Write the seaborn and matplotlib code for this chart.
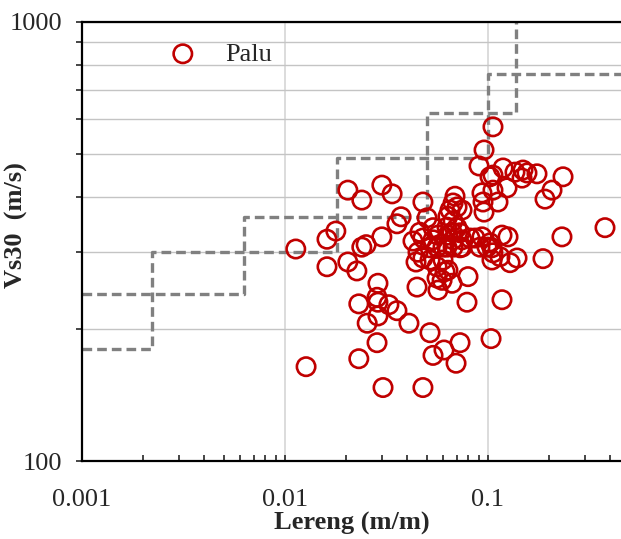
import numpy as np
import pandas as pd
import matplotlib
matplotlib.use("Agg")
import matplotlib.pyplot as plt
import matplotlib.ticker as mticker
import seaborn as sns

# slope (m/m) and Vs30 (m/s)
slope = [0.0113, 0.0127, 0.0161, 0.0161, 0.0178, 0.0204, 0.0239, 0.0300, 0.0337, 0.0204,
         0.0226, 0.0239, 0.0251, 0.0300, 0.0356, 0.0373, 0.0287, 0.0284, 0.0231, 0.0287,
         0.0325, 0.0356, 0.0287, 0.0254, 0.0408, 0.0284, 0.0231, 0.0304, 0.0478, 0.0518,
         0.0536, 0.0607, 0.0728, 0.0696, 0.1035,
         0.0478, 0.0501, 0.0427, 0.0452, 0.0478, 0.0518, 0.0447, 0.0442, 0.0518, 0.0478,
         0.0536, 0.0567, 0.0536, 0.0635, 0.0462, 0.0688, 0.0673, 0.0704, 0.0745, 0.0650,
         0.0635, 0.0673, 0.0628, 0.0665, 0.0704, 0.0728, 0.0673, 0.0745, 0.0628, 0.0745,
         0.0673, 0.0600, 0.0561, 0.0561, 0.0600, 0.0635, 0.0594, 0.0665, 0.0614, 0.0561,
         0.0567, 0.0797, 0.0788, 0.0815, 0.0728,
         0.0863, 0.0913, 0.0934, 0.0989, 0.1023, 0.1046, 0.1058, 0.1046, 0.1146, 0.1255,
         0.1284, 0.1390, 0.1172, 0.1058, 0.0956, 0.0903, 0.1058, 0.1186, 0.1358, 0.1487,
         0.1556, 0.1471, 0.1743, 0.2342, 0.0934, 0.1058, 0.1241, 0.0945, 0.1120, 0.0956,
         0.2067, 0.1909, 0.2314, 0.1866, 0.377, 0.1023, 0.1172]
vs30 = [304, 164, 277, 320, 334, 414, 393, 425, 406, 284,
        271, 307, 311, 324, 347, 360, 254, 236, 228, 230,
        227, 220, 214, 206, 206, 186, 171, 147, 147, 196,
        174, 179, 186, 167, 190,
        389, 358, 317, 299, 290, 306, 249, 284, 287, 322,
        340, 327, 319, 327, 332, 401, 387, 379, 373, 373,
        361, 352, 341, 332, 340, 331, 319, 319, 307, 307,
        307, 307, 307, 277, 287, 272, 258, 254, 270, 261,
        245, 263, 230, 322, 306,
        322, 307, 324, 307, 314, 306, 298, 287, 292, 324,
        283, 290, 233, 577, 511, 470, 448, 465, 455, 460,
        453, 441, 451, 444, 408, 414, 419, 389, 389, 369,
        414, 395, 324, 289, 340, 444, 327]

# site class slope boundaries (step lines)
lo_slope = [0.001, 0.0022, 0.018, 0.1, 1.0]
lo_vs = [180, 300, 490, 760, 760]
hi_slope = [0.001, 0.0063, 0.05, 0.138]
hi_vs = [240, 360, 620, 2000]

df = pd.DataFrame({"slope": slope, "vs30": vs30})

sns.set_style("white")
plt.rcParams["font.family"] = ["Liberation Serif", "DejaVu Serif"]

fig = plt.figure(figsize=(6.21, 5.39), dpi=100)
ax = fig.add_axes([82 / 621, 78 / 539, 539 / 621, 439 / 539])
ax.set_xscale("log")
ax.set_yscale("log")

ax.plot(lo_slope, lo_vs, drawstyle="steps-post", color="#808080", lw=2.4,
        dashes=(2.9, 1.5), zorder=2)
ax.plot(hi_slope, hi_vs, drawstyle="steps-post", color="#808080", lw=2.4,
        dashes=(2.9, 1.5), zorder=2)

sns.scatterplot(data=df, x="slope", y="vs30", ax=ax, marker="o", s=175,
                facecolor="none", edgecolor="#C00000", linewidth=1.9,
                label="Palu", zorder=3)

ax.set_xlim(0.001, 10 ** (-3 + 539 / 203))
ax.set_ylim(100, 1000)

ax.xaxis.set_major_formatter(mticker.FuncFormatter(lambda v, p: "%g" % v))
ax.xaxis.set_minor_formatter(mticker.NullFormatter())
ax.yaxis.set_major_formatter(mticker.FuncFormatter(lambda v, p: "%g" % v))
ax.yaxis.set_minor_formatter(mticker.NullFormatter())

ax.grid(True, axis="y", which="both", color="#c4c4c4", lw=1.0, zorder=0)
ax.grid(True, axis="x", which="major", color="#d9d9d9", lw=1.3, zorder=0)
ax.set_axisbelow(True)

ax.tick_params(axis="y", which="both", direction="out", length=4, width=1.2,
               left=True, labelsize=19, pad=10)
ax.tick_params(axis="x", which="both", direction="in", length=4, width=1.2,
               bottom=True, labelsize=19, pad=20)

for side in ["left", "bottom", "top"]:
    ax.spines[side].set_color("black")
    ax.spines[side].set_linewidth(1.6)
ax.spines["right"].set_visible(False)

ax.set_xlabel("Lereng (m/m)", fontsize=19, fontweight="bold", labelpad=0.5)
ax.set_ylabel("Vs30  (m/s)", fontsize=19, fontweight="bold")
ax.yaxis.set_label_coords(-0.100, 0.538)

ax.legend(loc="upper left", bbox_to_anchor=(0.094, 1.008), frameon=False,
          fontsize=19, handletextpad=0.62, markerscale=1.0)

fig.savefig("out.png", dpi=100)
